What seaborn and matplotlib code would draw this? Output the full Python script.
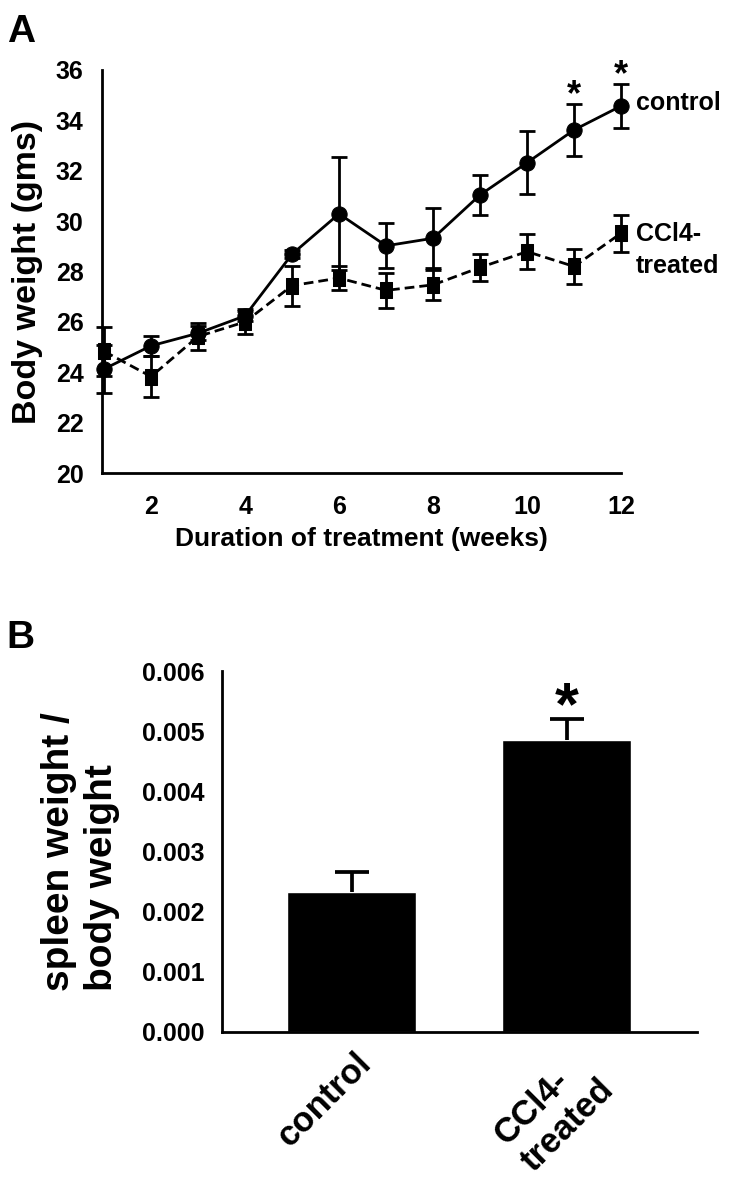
#!/usr/bin/python

'''
Body weight over time and spleen/body weight ratio, control vs CCl4
'''

import numpy as np
import pandas as pd
import matplotlib
matplotlib.use('Agg')
from matplotlib import pyplot as plt
import matplotlib.transforms as mtransforms
import seaborn as sns

# - data -----------------------------------------------------------------------
weeks = [1, 2, 3, 4, 5, 6, 7, 8, 9, 10, 11, 12]
control_wt = [24.13, 25.05, 25.55, 26.24, 28.69, 30.29, 29.02, 29.32, 31.04, 32.32, 33.62, 34.57]
control_err = [0.95, 0.40, 0.27, 0.20, 0.15, 2.25, 0.90, 1.19, 0.80, 1.25, 1.04, 0.89]
ccl4_wt = [24.83, 23.83, 25.42, 26.00, 27.44, 27.74, 27.25, 27.47, 28.16, 28.79, 28.20, 29.52]
ccl4_err = [0.97, 0.80, 0.55, 0.50, 0.79, 0.47, 0.68, 0.60, 0.55, 0.68, 0.68, 0.73]
signif_weeks = [11, 12]

bar_groups = ['control', 'CCl4-\ntreated']
spleen_ratio = [0.00233, 0.00486]
spleen_err = [0.00033, 0.00035]
bar_signif = [False, True]

# - style ----------------------------------------------------------------------
sns.set_style('white')
plt.rcParams['font.family'] = ['Liberation Sans', 'DejaVu Sans']
plt.rcParams['font.weight'] = 'bold'
plt.rcParams['axes.labelweight'] = 'bold'
plt.rcParams['axes.linewidth'] = 2
plt.rcParams['axes.edgecolor'] = 'black'
plt.rcParams['axes.labelcolor'] = 'black'
plt.rcParams['text.color'] = 'black'
plt.rcParams['xtick.major.width'] = 2
plt.rcParams['ytick.major.width'] = 2
plt.rcParams['xtick.color'] = 'black'
plt.rcParams['ytick.color'] = 'black'

fig = plt.figure(figsize=(7.35, 11.9), dpi=100)

# - panel A --------------------------------------------------------------------
axA = fig.add_axes([0.1384, 0.6025, 0.845 - 0.1384, 0.9412 - 0.6025])

df = pd.DataFrame({
    'week': weeks * 2,
    'weight': control_wt + ccl4_wt,
    'group': ['control'] * len(weeks) + ['CCl4-treated'] * len(weeks),
})

for y, e in [(control_wt, control_err), (ccl4_wt, ccl4_err)]:
    eb = axA.errorbar(weeks, y, yerr=e, fmt='none', ecolor='black',
                      elinewidth=2, capsize=6, capthick=2, zorder=2)
    for art in eb.get_children():
        art.set_clip_on(False)

# slightly tall square, like the original marker
tall_square = [(-0.75, -1), (0.75, -1), (0.75, 1), (-0.75, 1), (-0.75, -1)]

sns.lineplot(data=df, x='week', y='weight', hue='group', style='group',
             palette={'control': 'black', 'CCl4-treated': 'black'},
             markers={'control': 'o', 'CCl4-treated': tall_square},
             dashes={'control': '', 'CCl4-treated': (3.5, 1.8)},
             markersize=11, markeredgecolor='black', linewidth=2,
             legend=False, ax=axA, zorder=3)
for ln in axA.lines:
    ln.set_clip_on(False)

axA.set_xlim(0.95, 12)
axA.set_ylim(20, 36)
axA.set_xticks([2, 4, 6, 8, 10, 12])
axA.set_yticks(np.arange(20, 37, 2))
axA.tick_params(axis='both', direction='out', length=4, labelsize=18)
axA.tick_params(axis='y', pad=9)
axA.tick_params(axis='x', pad=11.5)
axA.set_xlabel('Duration of treatment (weeks)', fontsize=19, labelpad=6)
axA.set_ylabel('Body weight (gms)', fontsize=24.5, labelpad=9)
for s in ['top', 'right']:
    axA.spines[s].set_visible(False)

for w in signif_weeks:
    i = weeks.index(w)
    axA.text(w, control_wt[i] + control_err[i] + 0.33, '*', ha='center',
             va='center', fontsize=26, fontweight='bold')

axA.text(12.32, control_wt[-1] + 0.1, 'control', ha='left', va='center',
         fontsize=18, fontweight='bold', clip_on=False)
axA.text(12.32, ccl4_wt[-1] - 0.66, 'CCl4-\ntreated', ha='left', va='center',
         fontsize=18, fontweight='bold', linespacing=1.4, clip_on=False)

# - panel B --------------------------------------------------------------------
axB = fig.add_axes([0.3014, 0.1328, 0.948 - 0.3014, 0.4361 - 0.1328])

sns.barplot(x=bar_groups, y=spleen_ratio, color='black', width=0.6,
            errorbar=None, ax=axB, saturation=1)
xpos = np.arange(len(bar_groups))
eb = axB.errorbar(xpos, spleen_ratio, yerr=[np.zeros(len(spleen_err)), spleen_err],
                  fmt='none', ecolor='black', elinewidth=2.7, capsize=12.5,
                  capthick=2.7, zorder=1)
eb[1][0].set_visible(False)   # no cap on the lower (zero) side

for i, flag in enumerate(bar_signif):
    if flag:
        axB.text(xpos[i], spleen_ratio[i] + spleen_err[i] + 0.00017, '*',
                 ha='center', va='center', fontsize=44, fontweight='bold')

axB.set_xlim(-0.606, 1.606)
axB.set_ylim(0, 0.006)
axB.set_yticks(np.arange(0, 0.0061, 0.001))
axB.set_yticklabels(['%.3f' % v for v in np.arange(0, 0.0061, 0.001)])
axB.tick_params(axis='y', direction='out', length=5, labelsize=18, pad=7)
axB.tick_params(axis='x', length=0, labelsize=25, pad=0)
for s in ['top', 'right']:
    axB.spines[s].set_visible(False)
axB.set_ylabel('spleen weight /\nbody weight', fontsize=28, labelpad=16,
               linespacing=1.25)
axB.yaxis.label.set_multialignment('left')

offset = mtransforms.ScaledTranslation(3 / 100, -14 / 100, fig.dpi_scale_trans)
for lab in axB.get_xticklabels():
    lab.set_rotation(45)
    lab.set_ha('right')
    lab.set_va('top')
    lab.set_rotation_mode('anchor')
    lab.set_multialignment('left')
    lab.set_linespacing(1.2)
    lab.set_transform(lab.get_transform() + offset)

# - panel letters ----------------------------------------------------------------
fig.text(0.009, 0.965, 'A', fontsize=28, fontweight='bold', va='baseline')
fig.text(0.009, 0.4555, 'B', fontsize=28, fontweight='bold', va='baseline')

plt.savefig('out.png', dpi=100)
